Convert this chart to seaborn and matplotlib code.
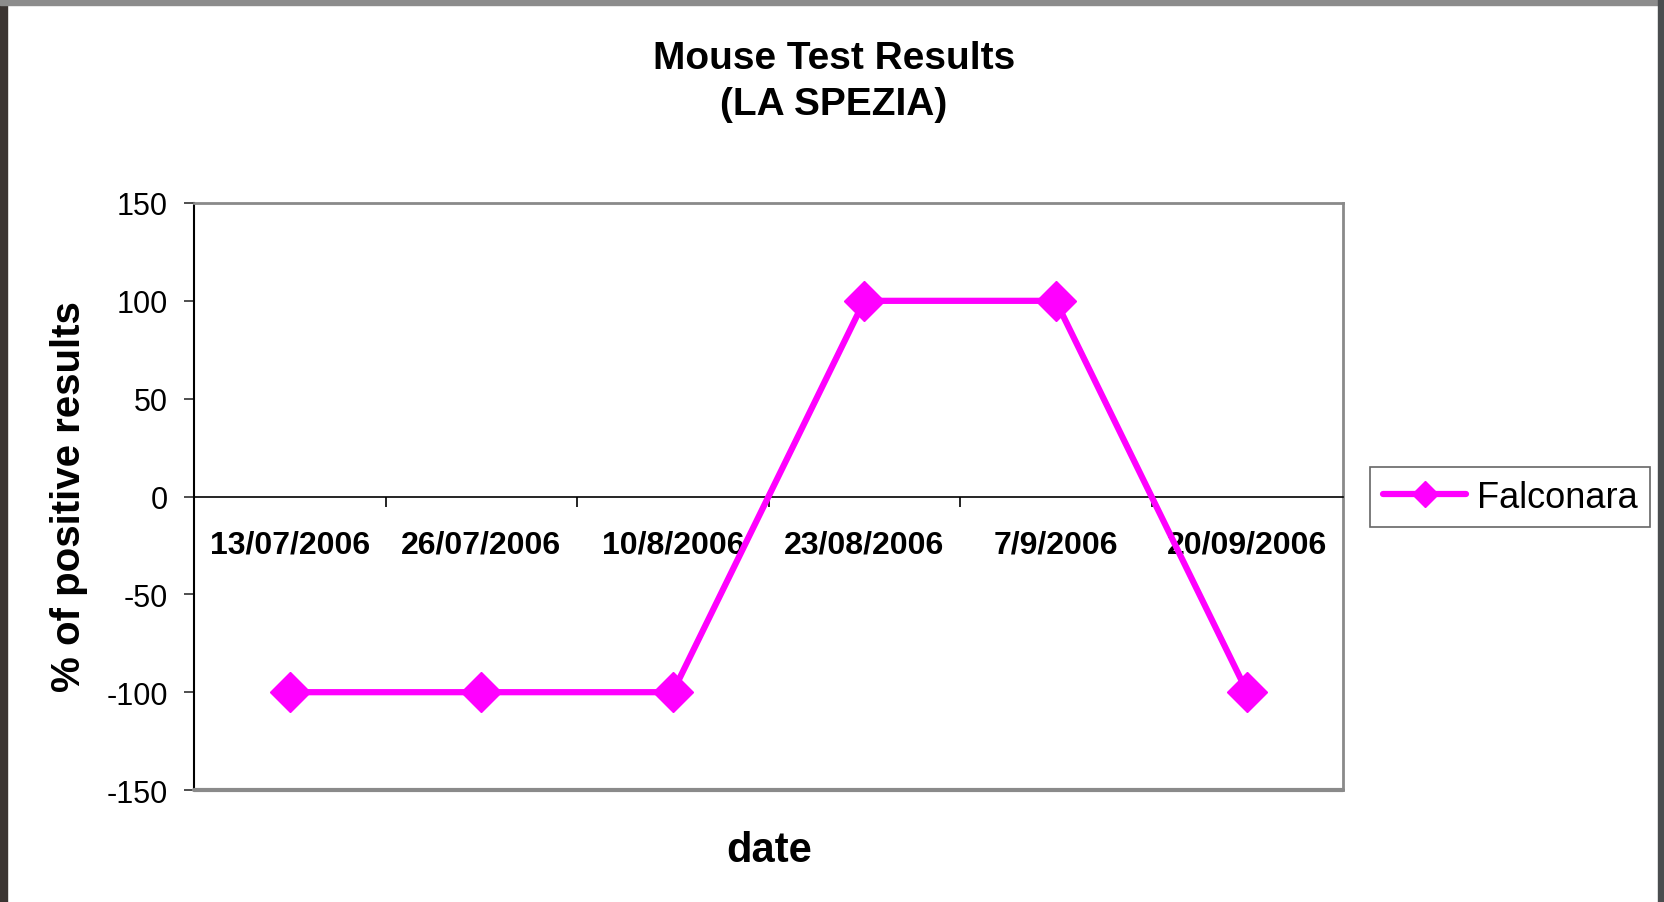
import numpy as np
import matplotlib
matplotlib.use("Agg")
import matplotlib.pyplot as plt
from matplotlib.patches import Rectangle
import seaborn as sns

# data
dates = ["13/07/2006", "26/07/2006", "10/8/2006", "23/08/2006", "7/9/2006", "20/09/2006"]
falconara = [-100, -100, -100, 100, 100, -100]
y_ticks = [-150, -100, -50, 0, 50, 100, 150]

sns.set_theme(style="white")
plt.rcParams['font.family'] = ['Liberation Sans', 'DejaVu Sans']
plt.rcParams['text.color'] = 'black'
plt.rcParams['xtick.color'] = 'black'
plt.rcParams['ytick.color'] = 'black'

fig = plt.figure(figsize=(16.64, 9.03), dpi=100)
fig.patch.set_facecolor("white")
ax = fig.add_axes([0.1166, 0.124, 0.8071 - 0.1166, 0.7741 - 0.124])

x = np.arange(len(dates))
sns.lineplot(x=x, y=falconara, ax=ax, color="#FF00FF", linewidth=4.5,
             marker="D", markersize=20, markeredgecolor="#FF00FF",
             markeredgewidth=1, label="Falconara", legend=False, zorder=5)

ax.set_xlim(-0.5, len(dates) - 0.5)
ax.set_ylim(-150, 150)
ax.set_yticks(y_ticks)
ax.set_yticklabels([str(v) for v in y_ticks], fontsize=22)
ax.tick_params(axis="y", direction="out", length=7, width=1.2, color="#303030",
               pad=12, left=True)

# category axis sits on y = 0
ax.spines["bottom"].set_position(("data", 0))
ax.spines["bottom"].set_color("black")
ax.spines["bottom"].set_linewidth(1.2)
ax.spines["left"].set_color("black")
ax.spines["left"].set_linewidth(1.5)
for s in ["top", "right"]:
    ax.spines[s].set_color("#8a8a8a")
    ax.spines[s].set_linewidth(2)
ax.axhline(-150, color="#8a8a8a", linewidth=3, clip_on=False, zorder=3)

ax.set_xticks(x)
ax.set_xticklabels(dates, fontsize=23, fontweight="bold")
ax.set_xticks(np.arange(0.5, len(dates) - 0.5, 1), minor=True)
ax.tick_params(axis="x", which="major", length=0, pad=24, bottom=True)
ax.tick_params(axis="x", which="minor", direction="out", length=7, width=1.2,
               color="black", bottom=True)
ax.set_xlabel("")
ax.set_ylabel("")
ax.grid(False)

fig.text(0.501, 0.909, "Mouse Test Results\n(LA SPEZIA)", ha="center", va="center",
         fontsize=28, fontweight="bold", linespacing=1.38)
fig.text(0.0415, 0.4496, "% of positive results", rotation=90, ha="center",
         va="center", fontsize=29, fontweight="bold")
fig.text(0.462, 0.0576, "date", ha="center", va="center", fontsize=30,
         fontweight="bold")

handles, labels = ax.get_legend_handles_labels()
leg = fig.legend(handles, labels, loc="center", bbox_to_anchor=(0.9077, 0.4485),
                 fontsize=26, frameon=True, fancybox=False, handlelength=2.3,
                 markerscale=0.65, borderpad=0.35, handletextpad=0.3)
leg.get_frame().set_edgecolor("#404040")
leg.get_frame().set_linewidth(1.2)

# dark screenshot edges around the chart
fig.patches.append(Rectangle((0, 0), 7 / 1664, 1, transform=fig.transFigure,
                             color="#3b3532", zorder=10))
fig.patches.append(Rectangle((0, 1 - 6 / 903), 1, 6 / 903, transform=fig.transFigure,
                             color="#8c8c8c", zorder=10))
fig.patches.append(Rectangle((1 - 6 / 1664, 0), 6 / 1664, 1, transform=fig.transFigure,
                             color="#4a4d4f", zorder=10))

fig.savefig("out.png", dpi=100)
